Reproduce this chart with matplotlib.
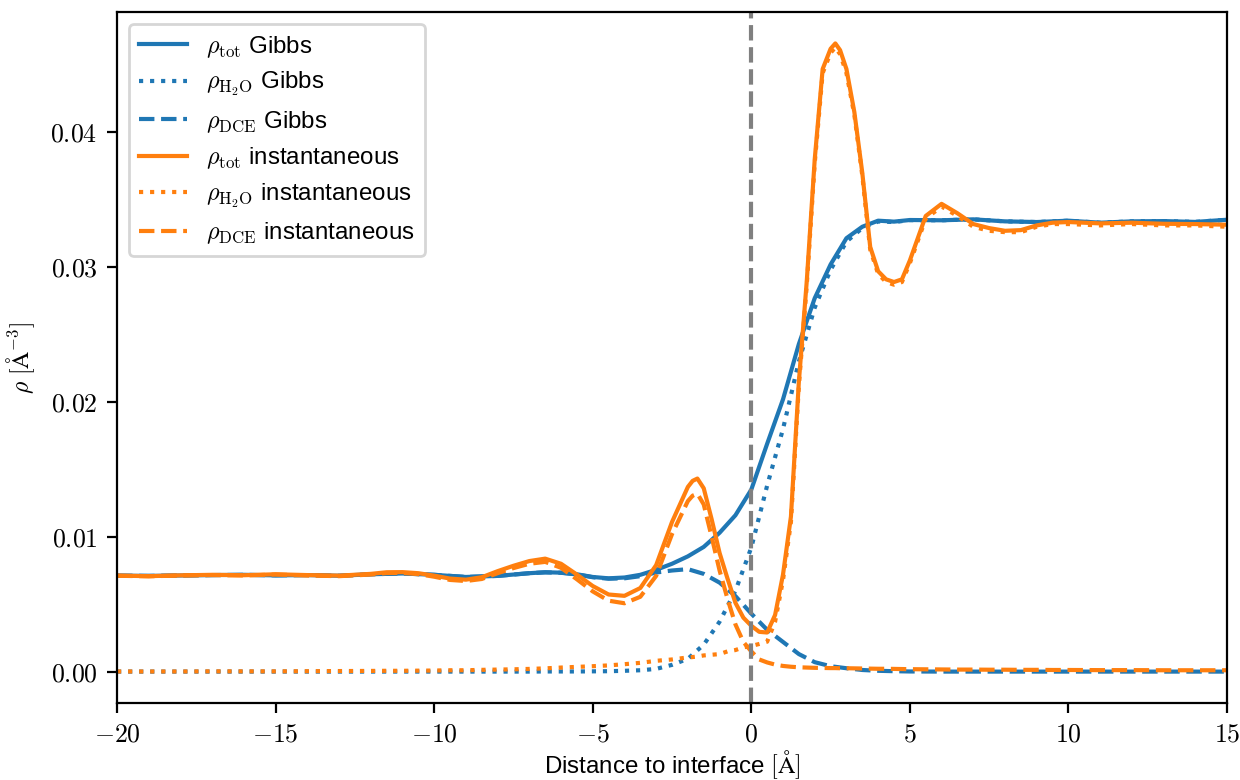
#!/usr/bin/env python3
"""Density profiles across the water / DCE interface (Gibbs vs instantaneous)."""

from __future__ import annotations

import matplotlib

matplotlib.use("Agg")
import matplotlib.pyplot as plt
from matplotlib.ticker import FuncFormatter, MultipleLocator


# Gibbs dividing surface profiles
x_gibbs = [-20, -19, -18, -17, -16, -15, -14, -13, -12, -11, -10, -9, -8, -7,
           -6.5, -6, -5.5, -5, -4.5, -4, -3.5, -3, -2.5, -2, -1.5, -1, -0.5,
           0, 0.5, 1, 1.5, 2, 2.5, 3, 3.5, 4, 4.5, 5,
           6, 7, 8, 9, 10, 11, 12, 13, 14, 15]
tot_gibbs = [0.00712, 0.00710, 0.00713, 0.00716, 0.00718, 0.00714, 0.00716, 0.00711,
             0.00722, 0.00728, 0.00718, 0.00702, 0.00710, 0.00730,
             0.00737, 0.00734, 0.00722, 0.00702, 0.00692, 0.00698, 0.00718, 0.00755,
             0.00800, 0.00855, 0.00925, 0.01030, 0.01160,
             0.01350, 0.01690, 0.02020, 0.02430, 0.02770, 0.03020, 0.03215, 0.03300,
             0.03345, 0.03338, 0.03350,
             0.03348, 0.03355, 0.03340, 0.03335, 0.03345, 0.03330, 0.03340, 0.03342,
             0.03336, 0.03352]
h2o_gibbs = [0.0, 0.0, 0.0, 0.0, 0.0, 0.0, 0.0, 0.0, 0.0, 0.0, 0.0, 0.0, 0.0, 0.0,
             0.00001, 0.00001, 0.00001, 0.00002, 0.00003, 0.00006, 0.00010, 0.00020,
             0.00050, 0.00095, 0.00200, 0.00370, 0.00600,
             0.00920, 0.01380, 0.01800, 0.02300, 0.02700, 0.02980, 0.03190, 0.03290,
             0.03339, 0.03335, 0.03349,
             0.03348, 0.03355, 0.03340, 0.03335, 0.03345, 0.03330, 0.03340, 0.03342,
             0.03336, 0.03352]
dce_gibbs = [0.00712, 0.00710, 0.00713, 0.00716, 0.00718, 0.00714, 0.00716, 0.00711,
             0.00722, 0.00728, 0.00718, 0.00702, 0.00710, 0.00730,
             0.00736, 0.00733, 0.00721, 0.00700, 0.00689, 0.00692, 0.00708, 0.00735,
             0.00750, 0.00760, 0.00725, 0.00660, 0.00560,
             0.00430, 0.00310, 0.00220, 0.00130, 0.00070, 0.00040, 0.00025, 0.00012,
             0.00006, 0.00003, 0.00001,
             0.0, 0.0, 0.0, 0.0, 0.0, 0.0, 0.0, 0.0, 0.0, 0.0]

# instantaneous interface profiles
x_inst = [-20, -19, -18, -17, -16, -15, -14, -13, -12,
          -11.5, -11, -10.5, -10, -9.5, -9, -8.5, -8, -7.5, -7, -6.5, -6, -5.5,
          -5, -4.5, -4, -3.5, -3, -2.5, -2,
          -1.85, -1.7, -1.5, -1.25, -1, -0.75, -0.5, -0.25, 0, 0.25, 0.5, 0.75, 1,
          1.25, 1.5, 1.75, 2, 2.25, 2.5,
          2.65, 2.8, 3, 3.25, 3.5, 3.75, 4, 4.25,
          4.5, 4.75, 5, 5.5, 6, 6.5, 7, 7.5, 8, 8.5, 9, 9.5, 10,
          11, 12, 13, 14, 15]
tot_inst = [0.00712, 0.00708, 0.00714, 0.00718, 0.00715, 0.00722, 0.00716, 0.00712, 0.00725,
            0.00737, 0.00738, 0.00730, 0.00712, 0.00690, 0.00682, 0.00700, 0.00745, 0.00785,
            0.00820, 0.00838, 0.00800, 0.00720,
            0.00635, 0.00572, 0.00562, 0.00620, 0.00790, 0.01110, 0.01370,
            0.01415, 0.01432, 0.01360, 0.01130, 0.00880, 0.00690, 0.00510, 0.00400, 0.00340,
            0.00295, 0.00290, 0.00420, 0.00720,
            0.01150, 0.02150, 0.02900, 0.03800, 0.04470, 0.04620,
            0.04660, 0.04610, 0.04470, 0.04150, 0.03700, 0.03150, 0.02970, 0.02910,
            0.02890, 0.02910, 0.03050, 0.03380, 0.03470, 0.03400, 0.03320, 0.03290, 0.03270,
            0.03275, 0.03310, 0.03330, 0.03335,
            0.03325, 0.03330, 0.03322, 0.03320, 0.03315]
h2o_inst = [0.00001, 0.00001, 0.00001, 0.00002, 0.00002, 0.00002, 0.00003, 0.00004, 0.00005,
            0.00006, 0.00006, 0.00007, 0.00008, 0.00010, 0.00010, 0.00013, 0.00015, 0.00017,
            0.00020, 0.00024, 0.00030, 0.00035,
            0.00040, 0.00046, 0.00055, 0.00065, 0.00080, 0.00090, 0.00105,
            0.00108, 0.00112, 0.00120, 0.00125, 0.00130, 0.00150, 0.00160, 0.00180, 0.00190,
            0.00205, 0.00222, 0.00370, 0.00680,
            0.01110, 0.02120, 0.02870, 0.03770, 0.04440, 0.04590,
            0.04630, 0.04580, 0.04440, 0.04130, 0.03680, 0.03130, 0.02950, 0.02890,
            0.02870, 0.02890, 0.03030, 0.03360, 0.03450, 0.03380, 0.03300, 0.03270, 0.03260,
            0.03260, 0.03300, 0.03320, 0.03320,
            0.03310, 0.03320, 0.03310, 0.03310, 0.03300]
dce_inst = [0.00711, 0.00707, 0.00713, 0.00716, 0.00713, 0.00720, 0.00713, 0.00708, 0.00720,
            0.00731, 0.00732, 0.00723, 0.00704, 0.00680, 0.00672, 0.00687, 0.00730, 0.00768,
            0.00800, 0.00814, 0.00770, 0.00685,
            0.00595, 0.00526, 0.00507, 0.00555, 0.00710, 0.01020, 0.01265,
            0.01305, 0.01320, 0.01240, 0.01000, 0.00750, 0.00540, 0.00350, 0.00220, 0.00150,
            0.00090, 0.00068, 0.00052, 0.00042,
            0.00036, 0.00032, 0.00030, 0.00028, 0.00027, 0.00026,
            0.00026, 0.00025, 0.00025, 0.00024, 0.00023, 0.00022, 0.00021, 0.00021,
            0.00020, 0.00019, 0.00018, 0.00017, 0.00016, 0.00015, 0.00015, 0.00014, 0.00014,
            0.00013, 0.00013, 0.00012, 0.00012,
            0.00011, 0.00011, 0.00010, 0.00010, 0.00010]

SANS = ["Liberation Sans", "DejaVu Sans"]


def main() -> int:
    plt.rcParams["font.family"] = SANS
    plt.rcParams["mathtext.fontset"] = "cm"

    fig = plt.figure(figsize=(6.2, 3.9), dpi=200)
    ax = fig.add_subplot(111)
    fig.subplots_adjust(left=0.0944, right=0.9895, bottom=0.0987, top=0.9846)

    ax.plot(x_gibbs, tot_gibbs, color="C0", ls="-", label=r"$\rho_\mathrm{tot}$ Gibbs")
    ax.plot(x_gibbs, h2o_gibbs, color="C0", ls=":", label=r"$\rho_\mathrm{H_2O}$ Gibbs")
    ax.plot(x_gibbs, dce_gibbs, color="C0", ls="--", label=r"$\rho_\mathrm{DCE}$ Gibbs")
    ax.plot(x_inst, tot_inst, color="C1", ls="-", label=r"$\rho_\mathrm{tot}$ instantaneous")
    ax.plot(x_inst, h2o_inst, color="C1", ls=":", label=r"$\rho_\mathrm{H_2O}$ instantaneous")
    ax.plot(x_inst, dce_inst, color="C1", ls="--", label=r"$\rho_\mathrm{DCE}$ instantaneous")
    ax.axvline(0, color="gray", ls="--")

    ax.set_xlim(-20, 15)
    ax.xaxis.set_major_locator(MultipleLocator(5))
    ax.yaxis.set_major_locator(MultipleLocator(0.01))
    ax.xaxis.set_major_formatter(FuncFormatter(lambda v, _: f"${v:g}$"))
    ax.yaxis.set_major_formatter(FuncFormatter(lambda v, _: f"${v:.2f}$"))
    ax.tick_params(labelsize=9.3)

    ax.set_xlabel(r"Distance to interface $[\mathrm{\AA}]$", fontsize=8.7, labelpad=0.5)
    ax.set_ylabel(r"$\rho\ [\mathrm{\AA}^{-3}]$", fontsize=8.5, labelpad=5)
    ax.legend(loc="upper left", fontsize=8.7, labelspacing=0.44)

    fig.savefig("out.png", dpi=200)
    plt.close(fig)
    return 0


if __name__ == "__main__":
    raise SystemExit(main())
